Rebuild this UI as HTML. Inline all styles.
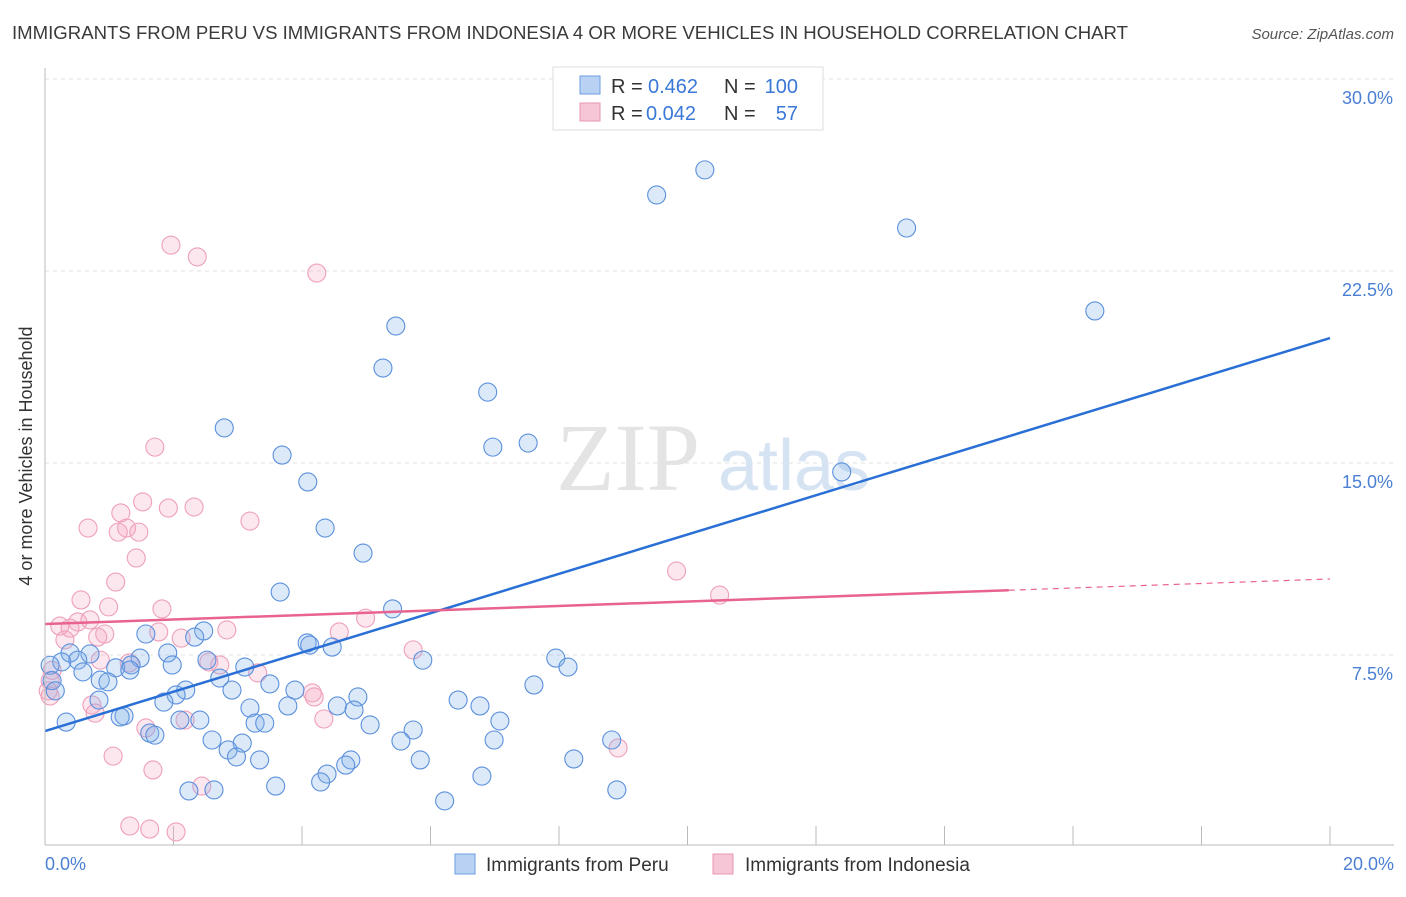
<!DOCTYPE html>
<html><head><meta charset="utf-8"><style>
body{margin:0;background:#fff;font-family:"Liberation Sans",sans-serif;}
</style></head><body>
<svg width="1406" height="892" viewBox="0 0 1406 892" xmlns="http://www.w3.org/2000/svg" font-family="Liberation Sans, sans-serif">
<text x="12" y="39" font-size="18" fill="#3a3a3a" textLength="1116" lengthAdjust="spacingAndGlyphs">IMMIGRANTS FROM PERU VS IMMIGRANTS FROM INDONESIA 4 OR MORE VEHICLES IN HOUSEHOLD CORRELATION CHART</text>
<text x="1394" y="39" font-size="15" fill="#555" font-style="italic" text-anchor="end">Source: ZipAtlas.com</text>
<g id="grid"></g>
<text x="700" y="490" font-size="96" fill="#e4e4e4" font-family="Liberation Serif, serif" text-anchor="end">ZIP</text>
<text x="718" y="490" font-size="72" fill="#d6e3f3">atlas</text>
<g id="pts"></g>
<g id="lines"></g>
<line x1="45" y1="68" x2="45" y2="845" stroke="#bbb"/>
<line x1="45" y1="845" x2="1394" y2="845" stroke="#bbb"/>
<text x="32" y="456" font-size="18" fill="#333" text-anchor="middle" transform="rotate(-90 32 456)">4 or more Vehicles in Household</text>
<text x="45" y="870" font-size="18" fill="#4a7fd4">0.0%</text>
<text x="1394" y="870" font-size="18" fill="#4a7fd4" text-anchor="end">20.0%</text>
<g>
<rect x="553" y="67" width="270" height="63" fill="#fff" stroke="#ddd"/>
<rect x="580" y="76" width="20" height="18" fill="#b9d2f3" stroke="#6d9de0"/>
<rect x="580" y="103" width="20" height="18" fill="#f7c6d6" stroke="#e996b2"/>
<text x="611" y="93" font-size="20" fill="#333">R =</text>
<text x="648" y="93" font-size="20" fill="#3a78d8">0.462</text>
<text x="724" y="93" font-size="20" fill="#333">N =</text>
<text x="798" y="93" font-size="20" fill="#3a78d8" text-anchor="end">100</text>
<text x="611" y="120" font-size="20" fill="#333">R =</text>
<text x="646" y="120" font-size="20" fill="#3a78d8">0.042</text>
<text x="724" y="120" font-size="20" fill="#333">N =</text>
<text x="798" y="120" font-size="20" fill="#3a78d8" text-anchor="end">57</text>
</g>
<g>
<rect x="455" y="854" width="20" height="20" fill="#b9d2f3" stroke="#6d9de0"/>
<text x="486" y="871" font-size="19" fill="#333">Immigrants from Peru</text>
<rect x="713" y="854" width="20" height="20" fill="#f7c6d6" stroke="#e996b2"/>
<text x="745" y="871" font-size="19" fill="#333">Immigrants from Indonesia</text>
</g>
</svg>
<script>
const yTicks=[7.5,15,22.5,30];
const yTickLabels=["7.5%","15.0%","22.5%","30.0%"];
const xTicks=[2,4,6,8,10,12,14,16,18,20];
const peruX=[10.27,9.52,13.41,16.34,5.46,5.26,6.89,7.52,6.97,12.40,2.79,3.69,4.09,4.36,4.95,3.66,5.41,1.57,2.47,2.33,4.08,4.47,4.12,1.91,1.48,1.34,1.98,2.52,3.11,5.88,7.95,8.14,0.70,0.39,0.51,0.26,0.59,1.10,0.86,0.98,1.32,2.72,3.50,2.91,2.19,2.04,3.89,4.87,1.85,0.84,7.61,6.43,6.77,3.19,3.78,4.55,4.81,7.08,5.73,5.06,2.41,2.10,1.23,1.17,0.33,3.27,3.42,1.63,1.71,2.60,3.07,2.85,2.98,5.54,6.99,8.82,3.34,4.76,4.68,5.84,8.23,4.39,4.29,6.80,3.59,2.24,2.63,6.22,8.90,0.08,0.11,0.16];
const peruY=[26.45,25.47,24.18,20.94,20.35,18.71,17.77,15.78,15.62,14.65,16.37,15.31,14.26,12.46,11.48,9.96,9.30,8.32,8.44,8.20,7.97,7.81,7.89,7.58,7.38,7.11,7.11,7.30,7.03,7.30,7.38,7.03,7.54,7.58,7.30,7.23,6.84,7.00,6.52,6.45,6.91,6.60,6.37,6.13,6.13,5.94,6.13,5.86,5.66,5.74,6.33,5.74,5.51,5.43,5.51,5.51,5.35,4.92,4.57,4.77,4.96,4.96,5.12,5.08,4.88,4.84,4.84,4.45,4.37,4.18,4.06,3.79,3.52,4.14,4.18,4.18,3.40,3.40,3.20,3.40,3.44,2.85,2.54,2.77,2.38,2.19,2.23,1.80,2.23,7.1,6.5,6.1];
const indoX=[1.96,2.37,4.23,1.71,1.52,1.92,2.32,1.18,3.19,0.67,1.27,1.14,1.46,1.42,1.10,9.83,10.50,0.56,0.99,1.82,4.58,2.83,4.99,0.51,0.70,0.23,0.39,0.93,0.82,1.77,2.12,0.31,5.73,0.86,1.31,2.72,2.55,3.31,4.16,4.19,0.73,0.78,4.34,2.18,1.57,1.06,8.92,1.68,2.44,1.32,1.63,2.04,0.08,0.05,0.11,0.08];
const indoY=[23.51,23.05,22.42,15.62,13.48,13.24,13.28,13.05,12.73,12.46,12.46,12.30,12.30,11.29,10.35,10.78,9.84,9.65,9.38,9.30,8.40,8.48,8.94,8.79,8.87,8.63,8.55,8.32,8.20,8.40,8.16,8.09,7.70,7.30,7.19,7.11,7.23,6.80,6.02,5.86,5.55,5.23,5.00,4.96,4.65,3.55,3.87,3.01,2.38,0.82,0.70,0.59,6.5,6.1,6.9,5.9];
const peruTrend=[4.53,19.88];
const indoTrend=[8.71,10.47];
const indoSolidEnd=15;
const NS="http://www.w3.org/2000/svg";
const X=v=>45+v/20*1285, Y=v=>847-v/7.5*192;
function mk(t,a,p){const e=document.createElementNS(NS,t);for(const k in a)e.setAttribute(k,a[k]);p.appendChild(e);return e;}
const grid=document.getElementById('grid');
yTicks.forEach((t,i)=>{
 const l=mk('line',{x1:45,x2:1394,y1:Y(t),y2:Y(t),stroke:'#e2e2e2','stroke-dasharray':'4,4'},grid);
 
 
 const tx=mk('text',{x:1393,y:Y(t)+25,'font-size':18,fill:'#4a7fd4','text-anchor':'end'},grid);
 tx.textContent=yTickLabels[i];
 
 
});
xTicks.forEach(t=>{
 const l=mk('line',{x1:X(t),x2:X(t),y1:826,y2:845,stroke:'#bbb'},grid);
 
 
});
const pts=document.getElementById('pts');
indoX.forEach((x,i)=>{
 const c=mk('circle',{cx:X(x),cy:Y(indoY[i]),r:9,fill:'rgba(244,170,195,0.28)',stroke:'#ee9fba','stroke-width':1.1},pts);
 
 
});
peruX.forEach((x,i)=>{
 const c=mk('circle',{cx:X(x),cy:Y(peruY[i]),r:9,fill:'rgba(130,175,235,0.28)',stroke:'#5b90dc','stroke-width':1.1},pts);
 
 
});
const lines=document.getElementById('lines');
const pl=mk('line',{x1:X(0),y1:Y(peruTrend[0]),x2:X(20),y2:Y(peruTrend[1]),stroke:'#2a6fd6','stroke-width':2.5},lines);


const iy=x=>indoTrend[0]+(indoTrend[1]-indoTrend[0])*x/20;
const il=mk('line',{x1:X(0),y1:Y(iy(0)),x2:X(indoSolidEnd),y2:Y(iy(indoSolidEnd)),stroke:'#e8638f','stroke-width':2.5},lines);


const id=mk('line',{x1:X(indoSolidEnd),y1:Y(iy(indoSolidEnd)),x2:X(20),y2:Y(iy(20)),stroke:'#e8638f','stroke-width':1.2,'stroke-dasharray':'6,5'},lines);


</script>
</body></html>
